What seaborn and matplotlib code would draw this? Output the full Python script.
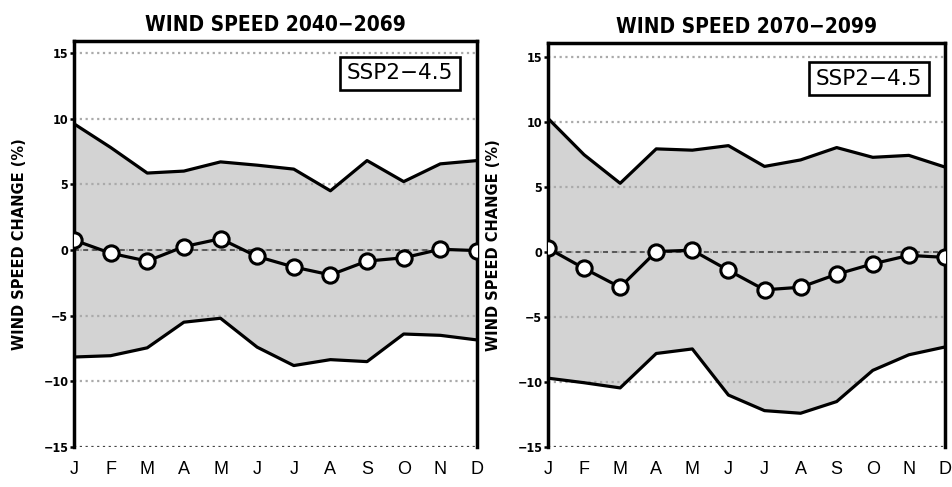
import numpy as np
import pandas as pd
import matplotlib
matplotlib.use('Agg')
import matplotlib.pyplot as plt
import seaborn as sns

# data (% change of wind speed)
months = ['J', 'F', 'M', 'A', 'M', 'J', 'J', 'A', 'S', 'O', 'N', 'D']

upper_2040 = [9.6, 7.8, 5.85, 6.0, 6.7, 6.45, 6.15, 4.5, 6.8, 5.2, 6.55, 6.8]
lower_2040 = [-8.15, -8.05, -7.45, -5.5, -5.2, -7.4, -8.8, -8.35, -8.5, -6.4, -6.5, -6.85]
mean_2040 = [0.75, -0.25, -0.85, 0.25, 0.85, -0.5, -1.3, -1.9, -0.85, -0.6, 0.05, -0.05]

upper_2070 = [10.3, 7.5, 5.3, 7.95, 7.85, 8.2, 6.6, 7.1, 8.05, 7.3, 7.45, 6.55]
lower_2070 = [-9.7, -10.05, -10.45, -7.8, -7.45, -11.0, -12.2, -12.4, -11.5, -9.1, -7.9, -7.3]
mean_2070 = [0.3, -1.25, -2.7, 0.05, 0.15, -1.4, -2.9, -2.7, -1.7, -0.9, -0.25, -0.4]

titles = ['WIND SPEED 2040\u22122069', 'WIND SPEED 2070\u22122099']
scenario = 'SSP2\u22124.5'
ylabel = 'WIND SPEED CHANGE (%)'
yticks = [-15, -10, -5, 0, 5, 10, 15]

sns.set_style('white')
plt.rcParams['font.family'] = ['Liberation Sans', 'DejaVu Sans']
plt.rcParams['text.color'] = 'black'
plt.rcParams['xtick.color'] = 'black'
plt.rcParams['ytick.color'] = 'black'
plt.rcParams['axes.labelcolor'] = 'black'
cond = dict(family='DejaVu Sans', fontstretch='condensed', fontweight='bold')

fig = plt.figure(figsize=(9.52, 4.87), dpi=100)
axes = [fig.add_axes([0.0777, 0.0821, 0.4233, 0.8337]),
        fig.add_axes([0.5756, 0.0821, 0.4170, 0.8296])]

panels = [(upper_2040, lower_2040, mean_2040, 15.9, 0.921),
          (upper_2070, lower_2070, mean_2070, 16.1, 0.912)]

grid_ls = (0, (1, 1.6))

for i, (ax, (up, lo, mn, ytop, boxy)) in enumerate(zip(axes, panels)):
    df = pd.DataFrame({'x': np.arange(12), 'up': up, 'lo': lo, 'mean': mn})

    ax.fill_between(df['x'], df['lo'], df['up'], color='#d3d3d3', lw=0, zorder=0)

    # dotted grid, darker at the bottom edge
    for yv in yticks:
        c = '#444444' if yv == -15 else '#aaaaaa'
        ax.axhline(yv, color=c, ls=grid_ls, lw=1.6, zorder=1)
    ax.axhline(0, color='#444444', ls=(0, (3, 2.5)), lw=1.2, zorder=1.5)

    sns.lineplot(data=df, x='x', y='up', ax=ax, color='black', lw=2.3, zorder=3)
    sns.lineplot(data=df, x='x', y='lo', ax=ax, color='black', lw=2.3, zorder=3)
    sns.lineplot(data=df, x='x', y='mean', ax=ax, color='black', lw=2.3, zorder=4,
                 marker='o', markersize=11, markerfacecolor='white',
                 markeredgecolor='black', markeredgewidth=2.2)

    ax.set_xlim(0, 11)
    ax.set_ylim(-15, ytop)
    ax.set_xticks(np.arange(12))
    ax.set_xticklabels(months, fontsize=13)
    ax.set_yticks(yticks)
    ax.set_yticklabels([str(v).replace('-', '\u2212') for v in yticks], fontsize=9, **cond)
    ax.tick_params(axis='x', length=0, pad=10)
    ax.tick_params(axis='y', length=3, width=1.8, direction='out', pad=1, left=True)
    for s in ['left', 'right', 'top']:
        ax.spines[s].set_linewidth(2.5)
        ax.spines[s].set_color('black')
    ax.spines['bottom'].set_visible(False)

    ax.set_xlabel('')
    ax.set_ylabel(ylabel, fontsize=11.7, labelpad=12, **cond)
    ax.set_title(titles[i], fontsize=15, pad=7, **cond)

    ax.text(0.809, boxy, scenario, transform=ax.transAxes, ha='center', va='center',
            fontsize=15.5, family='DejaVu Sans', zorder=6,
            bbox=dict(boxstyle='square,pad=0.3', fc='white', ec='black', lw=1.9))

fig.savefig('out.png', dpi=100)
